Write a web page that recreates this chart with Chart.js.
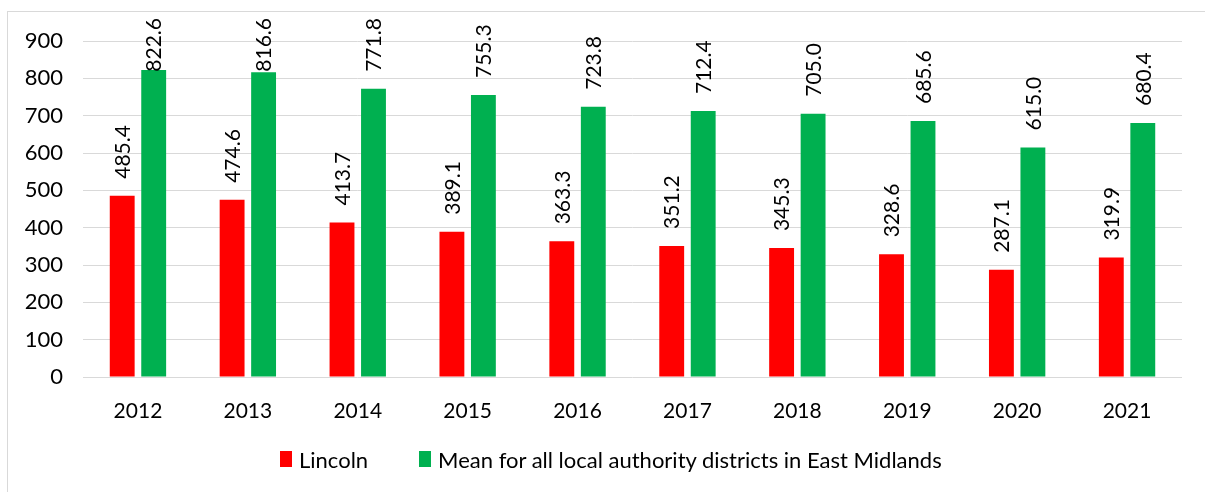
<!DOCTYPE html>
<html>
<head>
<script src="https://cdn.jsdelivr.net/npm/chart.js@4/dist/chart.umd.min.js"></script>
<style>
  body { margin:0; background:#fff; font-family: Lato, 'Open Sans', sans-serif; }
  #box { position:absolute; left:7px; top:11px; width:1210px; height:490px; border:1px solid #d9d9d9; }
  #wrap { position:absolute; left:0; top:0; width:1205px; height:492px; }
  #legend { position:absolute; left:280px; top:446px; height:26px; display:flex; align-items:center; font-size:22px; color:#000; white-space:nowrap; }
  #legend span.sw { display:inline-block; width:12px; height:16px; margin-right:7px; }
  #legend span.item { display:flex; align-items:center; margin-right:51px; }
</style>
</head>
<body>
<div id="box"></div>
<div id="wrap"><canvas id="chart"></canvas></div>
<div id="legend"></div>
<script>
var years = ["2012","2013","2014","2015","2016","2017","2018","2019","2020","2021"];
var lincoln = [485.4, 474.6, 413.7, 389.1, 363.3, 351.2, 345.3, 328.6, 287.1, 319.9];
var eastMidlands = [822.6, 816.6, 771.8, 755.3, 723.8, 712.4, 705.0, 685.6, 615.0, 680.4];
var seriesNames = ["Lincoln", "Mean for all local authority districts in East Midlands"];
var seriesColors = ["#ff0000", "#00b050"];

var fontFam = "Lato, 'Open Sans', sans-serif";

// rotated value labels above each bar, kept inside the top of the frame
var barLabels = {
  id: 'barLabels',
  afterDatasetsDraw: function(chart) {
    var ctx = chart.ctx;
    ctx.save();
    ctx.font = "21px " + fontFam;
    ctx.fillStyle = "#000";
    ctx.textAlign = "left";
    ctx.textBaseline = "middle";
    chart.data.datasets.forEach(function(ds, i) {
      chart.getDatasetMeta(i).data.forEach(function(bar, j) {
        var txt = ds.data[j].toFixed(1);
        var w = ctx.measureText(txt).width;
        var start = bar.y - 17;
        if (start - w < 18) start = 18 + w;
        ctx.save();
        ctx.translate(bar.x + 1, start);
        ctx.rotate(-Math.PI / 2);
        ctx.fillText(txt, 0, 0);
        ctx.restore();
      });
    });
    ctx.restore();
  }
};

var chart = new Chart(document.getElementById("chart"), {
  type: 'bar',
  data: {
    labels: years,
    datasets: [
      { label: seriesNames[0], data: lincoln, backgroundColor: seriesColors[0] },
      { label: seriesNames[1], data: eastMidlands, backgroundColor: seriesColors[1] }
    ]
  },
  options: {
    responsive: true,
    maintainAspectRatio: false,
    animation: false,
    categoryPercentage: 0.573,
    barPercentage: 0.79,
    layout: { padding: { top: 41, right: 23, bottom: 60, left: 0 } },
    plugins: {
      tooltip: { enabled: false },
      legend: { display: false }
    },
    scales: {
      x: {
        grid: { display: false },
        border: { display: false },
        ticks: { color: "#000", font: { size: 21, family: fontFam }, padding: 14 },
        afterFit: function(s) { s.height = 55; }
      },
      y: {
        min: 0,
        max: 900,
        ticks: { stepSize: 100, color: "#000", font: { size: 22, family: fontFam }, padding: 20 },
        grid: { color: "#d9d9d9", drawTicks: false },
        border: { display: false },
        afterFit: function(s) { s.width = 83; }
      }
    }
  },
  plugins: [barLabels]
});

// legend below the plot
var lg = document.getElementById("legend");
chart.data.datasets.forEach(function(ds, i) {
  var item = document.createElement("span");
  item.className = "item";
  item.innerHTML = '<span class="sw" style="background:' + ds.backgroundColor + '"></span>' + ds.label;
  lg.appendChild(item);
});
</script>
</body>
</html>
